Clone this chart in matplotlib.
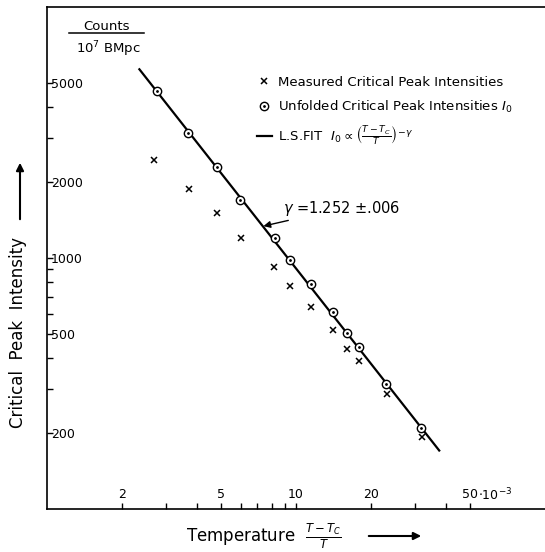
import matplotlib
matplotlib.use("Agg")
import matplotlib.pyplot as plt
from matplotlib.lines import Line2D
from matplotlib.ticker import FixedLocator, FixedFormatter, NullFormatter

plt.rcParams['font.family'] = 'DejaVu Sans'
plt.rcParams['mathtext.fontset'] = 'dejavusans'

# reduced temperature (T-Tc)/T, in units of 1e-3
t_meas = [2.70, 3.72, 4.83, 6.00, 8.18, 9.43, 11.5, 14.1, 16.1, 17.9, 23.1, 32.2]
i_meas = [2457, 1883, 1507, 1198, 917, 776, 640, 515, 435, 388, 286, 193]

t_unf = [2.77, 3.69, 4.80, 5.96, 8.20, 9.46, 11.5, 14.1, 16.1, 17.9, 23.0, 31.9]
i_unf = [4640, 3139, 2311, 1698, 1204, 982, 788, 609, 504, 442, 316, 210]

# end points of the least squares fit line
fit_t = [2.35, 37.6]
fit_i = [5647, 171]

x_major = [2, 5, 10, 20, 50]
x_labels = ['2', '5', '10', '20', '50']
x_minor = [3, 4, 6, 7, 8, 9, 30, 40]
y_major = [200, 500, 1000, 2000, 5000]
y_labels = ['200', '500', '1000', '2000', '5000']
y_minor = [300, 400, 600, 700, 800, 900, 3000, 4000]

fig = plt.figure(figsize=(5.45, 5.52), dpi=100)
ax = fig.add_axes([47/545, 43/552, 498/545, 502/552])
ax.set_xscale('log')
ax.set_yscale('log')
ax.set_xlim(1, 100)
ax.set_ylim(100, 10000)

ax.plot(fit_t, fit_i, color='k', lw=1.6, zorder=2)
ax.plot(t_meas, i_meas, 'x', color='k', ms=4, mew=1.1, zorder=3)
ax.plot(t_unf, i_unf, 'o', mfc='white', mec='k', ms=6, mew=1.0, zorder=3)
ax.plot(t_unf, i_unf, '.', color='k', ms=2, zorder=4)

ax.spines['right'].set_visible(False)
for s in ['left', 'top', 'bottom']:
    ax.spines[s].set_linewidth(1.2)

ax.xaxis.set_major_locator(FixedLocator(x_major))
ax.xaxis.set_major_formatter(FixedFormatter(x_labels))
ax.xaxis.set_minor_locator(FixedLocator(x_minor))
ax.xaxis.set_minor_formatter(NullFormatter())
ax.yaxis.set_major_locator(FixedLocator(y_major))
ax.yaxis.set_major_formatter(FixedFormatter(y_labels))
ax.yaxis.set_minor_locator(FixedLocator(y_minor))
ax.yaxis.set_minor_formatter(NullFormatter())

ax.tick_params(which='both', direction='in', length=4, width=1, labelsize=9)
ax.tick_params(axis='x', which='major', pad=-6)
ax.tick_params(axis='y', which='major', pad=-3)
plt.setp(ax.get_xticklabels(), va='bottom')
plt.setp(ax.get_yticklabels(), ha='left')

ax.annotate(r'$\cdot$10$^{-3}$', xy=(50, 0), xycoords=('data', 'axes fraction'),
            xytext=(6, 4.3), textcoords='offset points', ha='left', va='bottom', fontsize=9)

# unit label top left
ax.text(0.12, 0.962, 'Counts', transform=ax.transAxes, ha='center', va='center', fontsize=9.5)
ax.plot([0.044, 0.195], [0.9476, 0.9476], transform=ax.transAxes, color='k', lw=1.1, clip_on=False)
ax.text(0.1225, 0.916, r'10$^7$ BMpc', transform=ax.transAxes, ha='center', va='center', fontsize=9.5)

# legend
h1 = Line2D([], [], ls='none', marker='x', color='k', ms=4, mew=1.1)
h2a = Line2D([], [], ls='none', marker='o', mfc='white', mec='k', ms=6, mew=1.0)
h2b = Line2D([], [], ls='none', marker='.', color='k', ms=2)
h3 = Line2D([], [], color='k', lw=1.6)
labels = ['Measured Critical Peak Intensities',
          r'Unfolded Critical Peak Intensities $I_0$',
          r'L.S.FIT  $I_0 \propto \left(\frac{T-T_C}{T}\right)^{-\gamma}$']
ax.legend([h1, (h2a, h2b), h3], labels, loc='upper left', bbox_to_anchor=(0.397, 0.887),
          frameon=False, fontsize=9.5, handlelength=1.2, handletextpad=0.45, labelspacing=0.75)

ax.annotate(r'$\gamma$ =1.252 $\pm$.006', xy=(7.4, 1340), xytext=(8.9, 1580),
            ha='left', va='center', fontsize=10.5,
            arrowprops=dict(arrowstyle='-|>', color='k', lw=1, shrinkA=0, shrinkB=0,
                            mutation_scale=10))

# axis labels with arrows
fig.text(18/545, 1 - 332/552, 'Critical  Peak  Intensity', rotation=90,
         ha='center', va='center', fontsize=12)
ax.annotate('', xy=(20/545, 1 - 160/552), xytext=(20/545, 1 - 222/552),
            xycoords='figure fraction', textcoords='figure fraction',
            arrowprops=dict(arrowstyle='-|>', color='k', lw=1.5, mutation_scale=11))
fig.text(264/545, 1 - 536/552, r'Temperature  $\frac{T-T_C}{T}$',
         ha='center', va='center', fontsize=12)
ax.annotate('', xy=(424/545, 1 - 536/552), xytext=(366/545, 1 - 536/552),
            xycoords='figure fraction', textcoords='figure fraction',
            arrowprops=dict(arrowstyle='-|>', color='k', lw=1.5, mutation_scale=11))

fig.savefig('out.png', dpi=100)
